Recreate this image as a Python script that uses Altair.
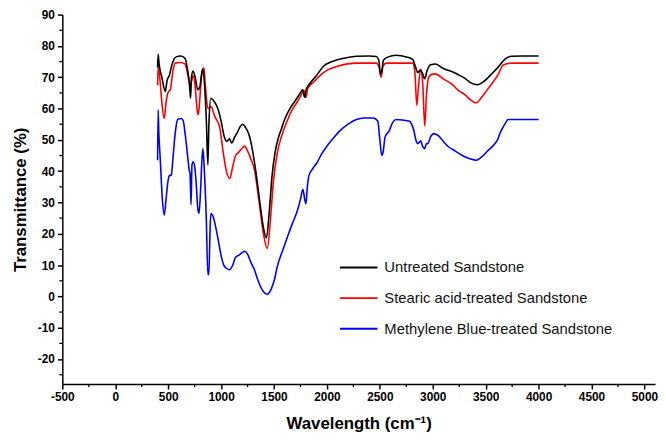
import altair as alt
import pandas as pd

# ---- data ----
untreated_wn = [400, 405, 415, 440, 473, 490, 510, 540, 575, 620, 660, 685, 700, 712, 720, 735, 755, 780, 800, 815,
                828, 845, 862, 875, 885, 903, 930, 969, 1000, 1030, 1050, 1065, 1080, 1100, 1130, 1156, 1180, 1203,
                1230, 1260, 1280, 1310, 1340, 1370, 1400, 1428, 1455, 1480, 1510, 1540, 1570, 1600, 1650, 1700, 1740,
                1770, 1790, 1805, 1839, 1900, 1970, 2050, 2150, 2278, 2400, 2466, 2490, 2505, 2515, 2535, 2580, 2652,
                2750, 2810, 2840, 2858, 2880, 2900, 2924, 2945, 2980, 3027, 3100, 3180, 3242, 3300, 3360, 3420, 3480,
                3560, 3620, 3680, 3745, 3850, 4000]
untreated_t = [73, 77.3, 74, 70, 65.5, 69, 70.5, 74.5, 76.5, 76.8, 76, 72, 68.3, 63.3, 70, 72, 70, 66, 67, 71,
               72.6, 67, 55, 42, 55, 63.3, 62.5, 60, 56, 51, 49.5, 49.8, 50.3, 49, 51, 52.5, 54.2, 55,
               54, 52, 49.5, 44, 37, 29, 22, 18.7, 27, 38, 46, 50.5, 53.5, 56.5, 60, 62.5, 64.5,
               66, 63.6, 66.2, 68, 70.5, 73.6, 75, 76, 76.7, 76.8, 76.6, 75.5, 71, 71.5, 75.5, 76.5, 77,
               76.5, 75.7, 73, 71.5, 72.2, 71.5, 69.5, 72, 74, 74.2, 72.8, 71.8, 70.8, 69.7, 68.2, 67.6, 68.6,
               71.2, 73.3, 75.7, 76.7, 76.8, 76.8]

stearic_wn = [400, 405, 420, 440, 463, 480, 500, 520, 545, 566, 620, 660, 690, 707, 720, 735, 755, 770, 780, 792,
              805, 818, 837, 850, 865, 880, 905, 940, 987, 1020, 1050, 1081, 1110, 1137, 1165, 1190, 1221, 1250,
              1280, 1315, 1360, 1400, 1436, 1465, 1495, 1530, 1570, 1624, 1670, 1717, 1760, 1782, 1801, 1820,
              1876, 1950, 2000, 2100, 2278, 2466, 2490, 2512, 2530, 2560, 2652, 2810, 2830, 2849, 2862, 2886,
              2905, 2924, 2940, 2961, 3000, 3027, 3100, 3180, 3242, 3300, 3360, 3410, 3460, 3510, 3560, 3620,
              3665, 3745, 3850, 4000]
stearic_t = [67.4, 73, 70, 62, 56.8, 62, 65.2, 66, 72, 74.5, 74.7, 74.2, 70, 67.4, 68.5, 70.5, 67, 61, 58, 60,
             66, 71, 73, 68, 62, 60, 60.6, 57.5, 54, 46, 40, 37.6, 41.5, 45, 46, 47, 48, 46.5,
             44, 40.4, 30, 20, 15.3, 24, 37, 45.7, 51, 56, 59.5, 62, 64.5, 65.8, 63.6, 66.5,
             68.5, 71, 72.2, 73.5, 74.5, 74.5, 73.5, 70, 73.5, 74.5, 74.5, 74.5, 72, 61, 66, 72.6,
             68, 54.4, 64, 70, 71, 71, 69.5, 67.8, 65.8, 64.5, 62.7, 61.8, 63.5, 65.8, 68, 71,
             73.9, 74.5, 74.5, 74.5]

methylene_wn = [400, 405, 412, 425, 445, 463, 480, 495, 510, 530, 545, 566, 590, 620, 640, 660, 688, 700, 706, 716,
                725, 735, 750, 765, 780, 791, 805, 818, 828, 842, 860, 875, 884, 895, 903, 925, 950, 969, 1000,
                1025, 1050, 1081, 1110, 1137, 1170, 1200, 1221, 1250, 1280, 1315, 1350, 1390, 1436, 1475, 1505,
                1530, 1580, 1624, 1670, 1717, 1750, 1773, 1790, 1801, 1815, 1829, 1870, 1904, 1950, 1998, 2060,
                2119, 2200, 2278, 2350, 2437, 2480, 2500, 2518, 2530, 2550, 2587, 2620, 2652, 2774, 2800, 2821,
                2840, 2858, 2886, 2905, 2924, 2940, 2952, 2980, 3008, 3030, 3055, 3100, 3148, 3210, 3279, 3350,
                3410, 3460, 3522, 3580, 3616, 3640, 3663, 3690, 3710, 3800, 4000]
methylene_t = [43.5, 59.6, 52, 44, 31, 26, 31, 36, 38.5, 38.8, 44, 52, 56.5, 56.8, 56.3, 52, 43.5, 40, 39.5, 29.3,
               42, 43, 41.5, 36, 28, 26.5, 33, 43, 47.2, 40, 25, 7, 7, 20, 26.5, 25.5, 22, 18.8, 13,
               10, 9, 8.5, 10, 12.5, 13.2, 14, 14.4, 13.5, 11, 8.5, 5, 2, 0.7, 2.5, 5.5,
               9.4, 14.5, 18.7, 23, 27, 31, 34.2, 31, 29.6, 35, 38.5, 41, 42.6, 45.5, 47.9, 50.5,
               52.8, 55, 56.5, 57, 57, 56, 50, 45, 46, 51, 52.8, 55.5, 56.5, 56, 55, 53,
               50, 48.8, 49.7, 47.8, 47.2, 48.8, 48.8, 51, 52, 51.8, 51.3, 49.5, 47.8, 46.5, 45, 44,
               43.5, 44.5, 46.6, 48.5, 50.3, 52.5, 54, 55.5, 56.5, 56.5, 56.5]

series_names = ["Untreated Sandstone", "Stearic acid-treated Sandstone", "Methylene Blue-treated Sandstone"]
series_colors = ["#000000", "#ff0000", "#0000ff"]

x_major = list(range(-500, 5001, 500))
x_minor = list(range(-250, 5000, 500))
y_major = list(range(-20, 91, 10))
y_minor = list(range(-25, 90, 10))

X_DOMAIN = [-500, 5100]
Y_DOMAIN = [-28, 90]
W, H = 600, 374

# ---- build table ----
rows = []
for name, wn, t in [(series_names[2], methylene_wn, methylene_t),
                    (series_names[1], stearic_wn, stearic_t),
                    (series_names[0], untreated_wn, untreated_t)]:
    for a, b in zip(wn, t):
        rows.append({"series": name, "wn": a, "t": b})
df = pd.DataFrame(rows)

xs = alt.Scale(domain=X_DOMAIN, nice=False, zero=False)
ys = alt.Scale(domain=Y_DOMAIN, nice=False, zero=False)

common_axis = dict(labelExpr="'' + datum.value", labelFontWeight="bold", labelFontSize=12,
                   labelFont="Liberation Sans", labelFlush=False, labelOverlap=False,
                   titleFont="Liberation Sans", titleFontSize=17, titleFontWeight="bold",
                   tickSize=5, labelPadding=3, grid=False,
                   domainColor="black", tickColor="black", labelColor="black",
                   titleColor="black", domainWidth=1.5, tickWidth=1.5)
x_axis = alt.Axis(values=x_major, title="Wavelength (cm⁻¹)", titlePadding=13, **common_axis)
y_axis = alt.Axis(values=y_major, title="Transmittance (%)", titlePadding=8, **common_axis)

lines = alt.Chart(df).mark_line(strokeWidth=1.6, interpolate="monotone").encode(
    x=alt.X("wn:Q", scale=xs, axis=x_axis, title="Wavelength (cm⁻¹)"),
    y=alt.Y("t:Q", scale=ys, axis=y_axis, title="Transmittance (%)"),
    color=alt.Color("series:N",
                    scale=alt.Scale(domain=series_names, range=series_colors),
                    legend=alt.Legend(orient="none", legendX=280, legendY=236, title=None,
                                      symbolType="stroke", symbolSize=1444, symbolStrokeWidth=2,
                                      labelFont="Liberation Sans", labelFontSize=15,
                                      labelColor="#111111", labelOffset=6, rowPadding=3,
                                      padding=0, labelLimit=400)),
    detail="series:N",
)

xminor = alt.Chart(pd.DataFrame({"v": x_minor})).mark_rule(color="black", strokeWidth=1.3).encode(
    x=alt.X("v:Q", scale=xs, axis=x_axis, title="Wavelength (cm⁻¹)"),
    y=alt.value(H), y2=alt.value(H + 3),
)
yminor = alt.Chart(pd.DataFrame({"v": y_minor})).mark_rule(color="black", strokeWidth=1.3).encode(
    y=alt.Y("v:Q", scale=ys, axis=y_axis, title="Transmittance (%)"),
    x=alt.value(0), x2=alt.value(-3),
)

chart = alt.layer(lines, xminor, yminor).properties(
    width=W, height=H,
    background="white",
    autosize=alt.AutoSizeParams(type="none"),
    padding={"left": 55, "top": 4, "right": 3, "bottom": 60},
).configure_view(stroke=None)

chart.save("out.html", embed_options={"renderer": "svg", "actions": False})
